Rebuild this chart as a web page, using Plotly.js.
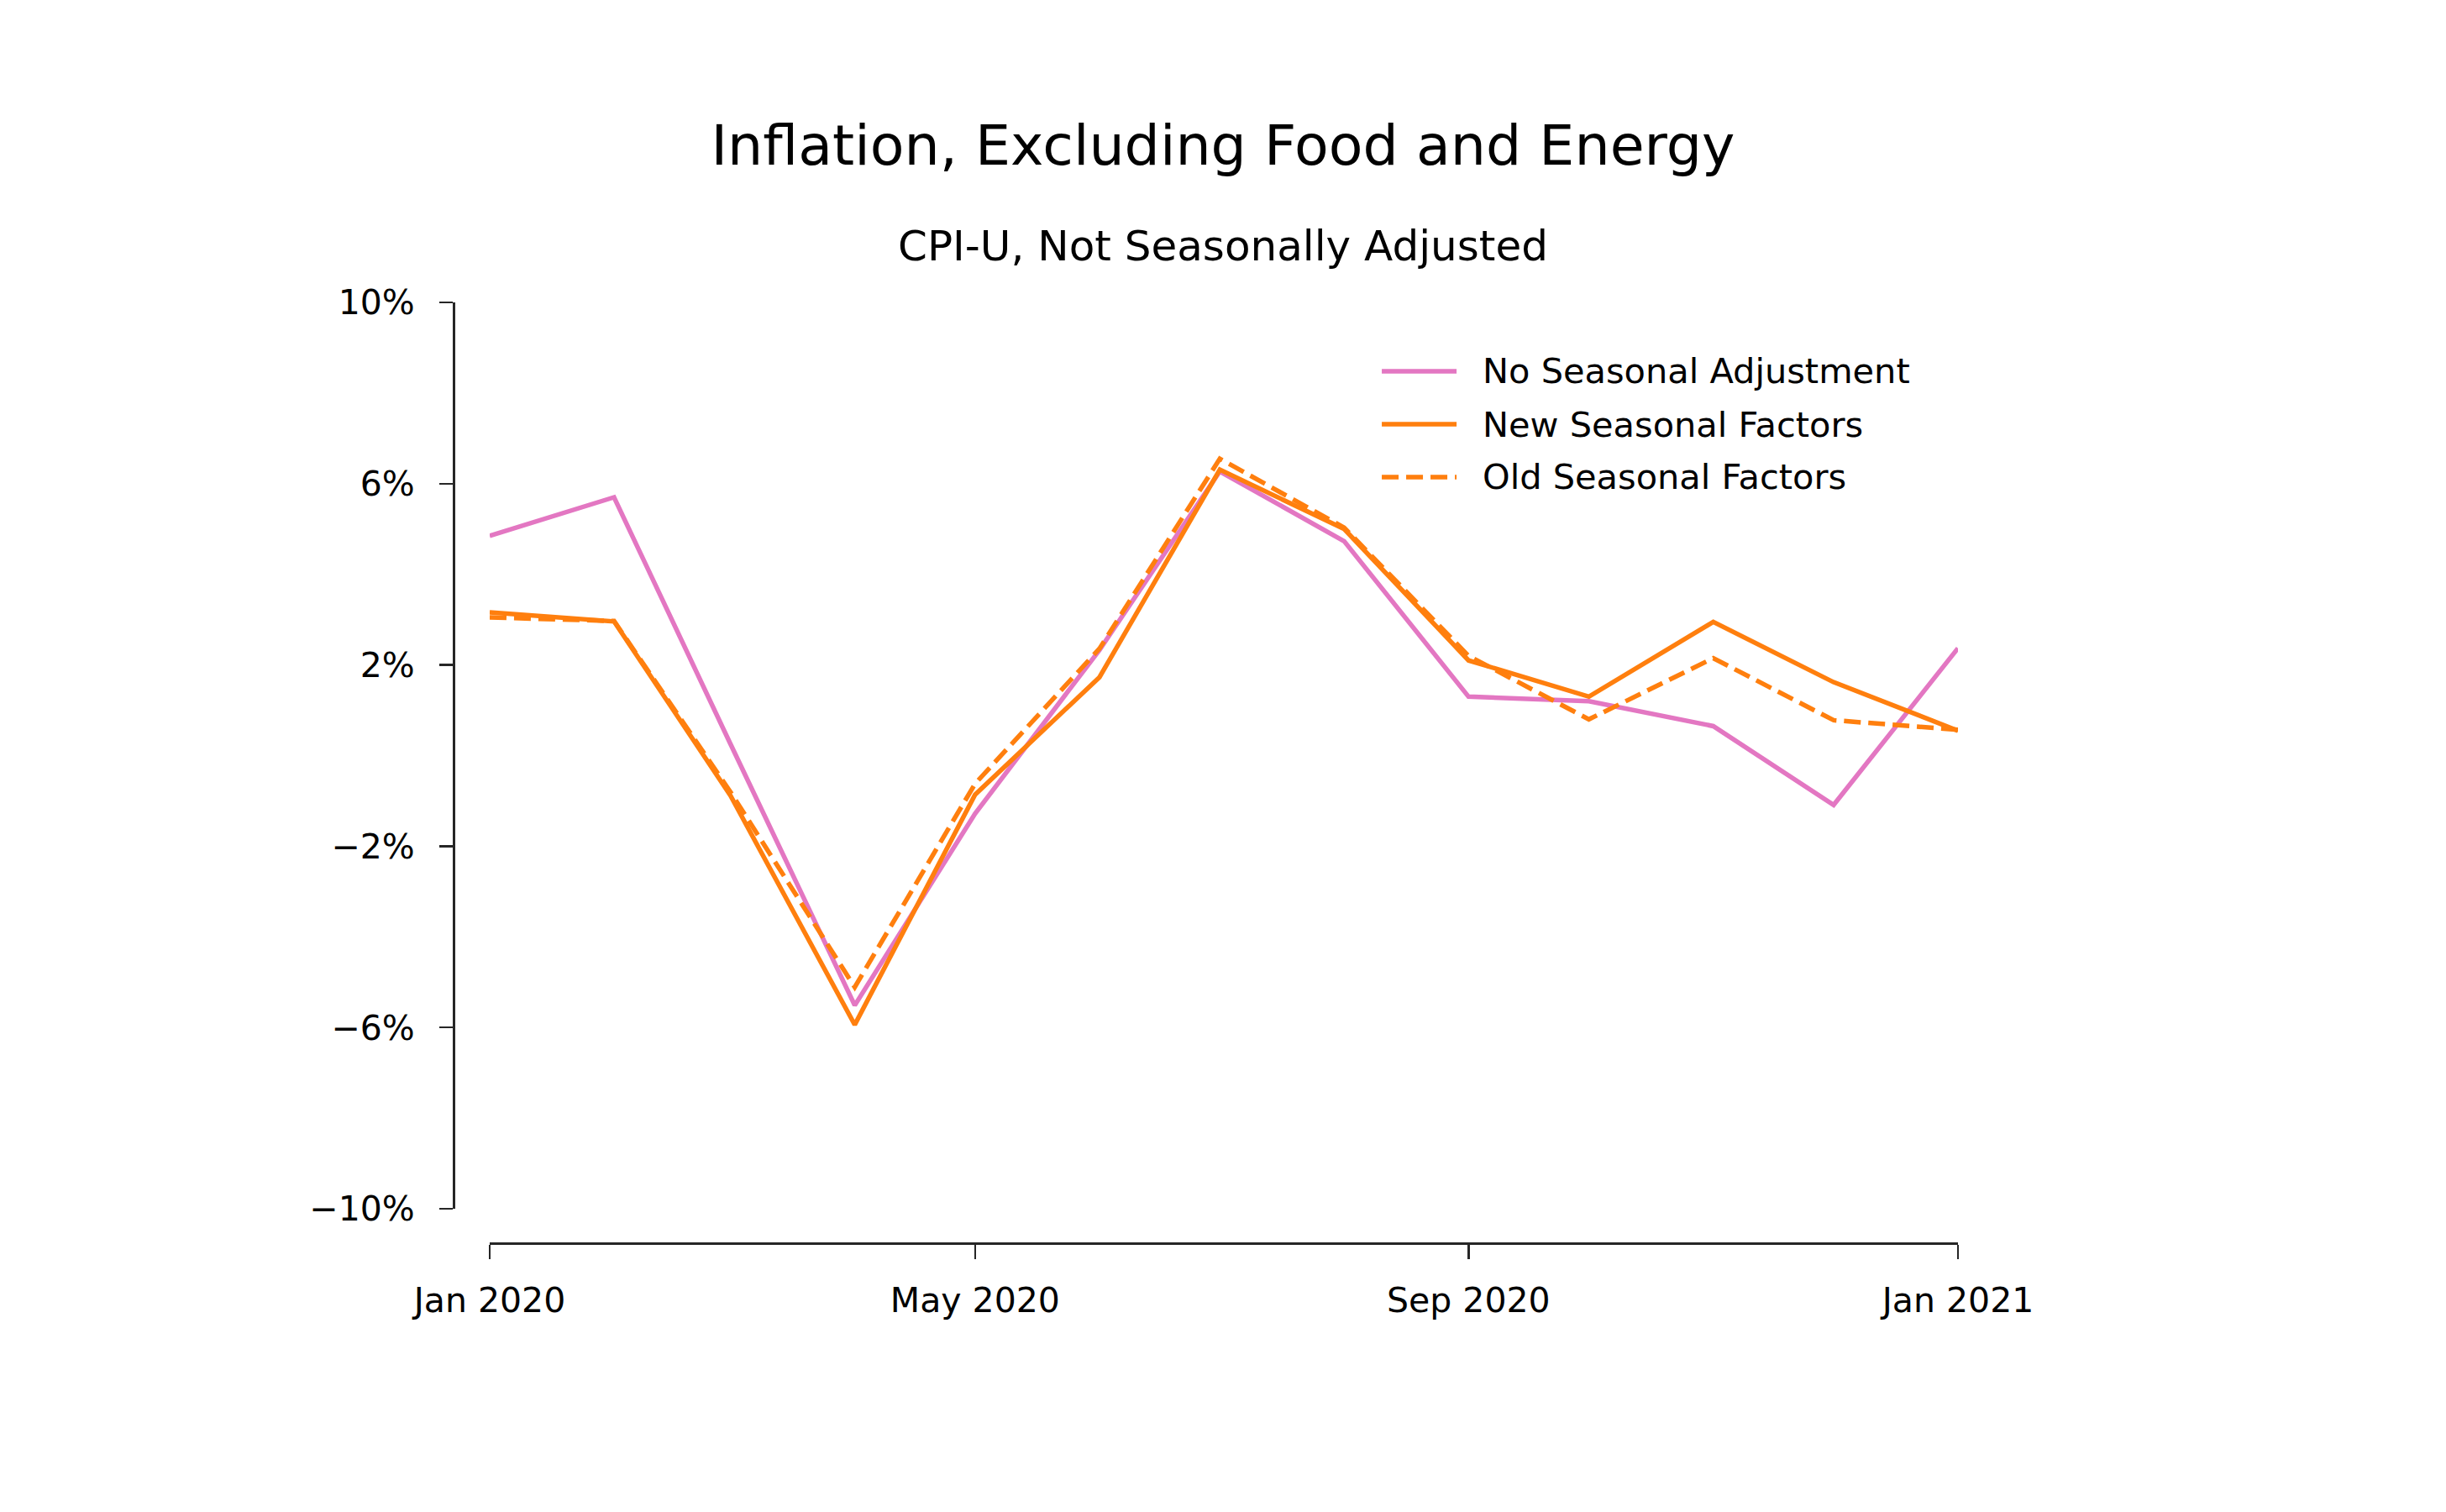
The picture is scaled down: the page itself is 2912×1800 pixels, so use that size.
<!DOCTYPE html>
<html>
<head>
<meta charset="utf-8">
<script src="https://cdn.plot.ly/plotly-3.0.1.min.js"></script>
<style>html,body{margin:0;padding:0;background:#fff;}#chart{width:2912px;height:1800px;}</style>
</head>
<body>
<div id="chart"></div>
<script>
// ---- data ----
const months = ['2020-01-01','2020-02-01','2020-03-01','2020-04-01','2020-05-01','2020-06-01','2020-07-01',
                '2020-08-01','2020-09-01','2020-10-01','2020-11-01','2020-12-01','2021-01-01'];
const noSeasonalAdjustment = [4.85, 5.70, 0.26, -5.51, -1.28, 2.33, 6.27, 4.73, 1.30, 1.20, 0.65, -1.09, 2.37];
const newSeasonalFactors   = [3.16, 2.96, -0.88, -5.94, -0.86, 1.73, 6.31, 5.00, 2.10, 1.30, 2.95, 1.62, 0.55];
const oldSeasonalFactors   = [3.05, 2.97, -0.80, -5.11, -0.62, 2.36, 6.55, 5.03, 2.20, 0.80, 2.15, 0.78, 0.57];
const seriesNames = ['No Seasonal Adjustment', 'New Seasonal Factors', 'Old Seasonal Factors'];
const yTickVals = [-10, -6, -2, 2, 6, 10];
const yTickText = ['\u221210%', '\u22126%', '\u22122%', '2%', '6%', '10%'];
const xTickVals = ['2020-01-01', '2020-05-01', '2020-09-01', '2021-01-01'];
const xTickText = ['Jan 2020', 'May 2020', 'Sep 2020', 'Jan 2021'];
const titleText = 'Inflation, Excluding Food and Energy';
const subtitleText = 'CPI-U, Not Seasonally Adjusted';

// ---- styles ----
const PINK = '#e377c2', ORANGE = '#ff7f0e', AX = '#262626';
const FONT = 'DejaVu Sans, sans-serif';
const LW = 5.5;
const styles = [
  {color: PINK, width: LW, dash: 'solid'},
  {color: ORANGE, width: LW, dash: 'solid'},
  {color: ORANGE, width: LW, dash: '20px,9px'}
];
const seriesValues = [noSeasonalAdjustment, newSeasonalFactors, oldSeasonalFactors];

const traces = seriesValues.map((vals, i) => ({
  type: 'scatter', mode: 'lines', x: months, y: vals, name: seriesNames[i],
  line: styles[i], showlegend: false, hoverinfo: 'skip'
}));

// manual legend (paper coords)
const legX0 = 0.617, legX1 = 0.6667, legTextX = 0.6834;
const legY = [0.9268, 0.8705, 0.8143];
const shapes = [], annotations = [];
seriesNames.forEach((n, i) => {
  shapes.push({type: 'line', xref: 'paper', yref: 'paper', x0: legX0, x1: legX1, y0: legY[i], y1: legY[i],
               line: {color: styles[i].color, width: LW, dash: styles[i].dash}});
  annotations.push({xref: 'paper', yref: 'paper', x: legTextX - 0.0005, y: legY[i], xanchor: 'left', yanchor: 'middle',
                    text: n, showarrow: false, font: {family: FONT, size: 41.5, color: '#000'}});
});
annotations.push({xref: 'paper', yref: 'paper', x: 0.5114, y: 1.0598, xanchor: 'center', yanchor: 'middle',
                  text: subtitleText, showarrow: false, font: {family: FONT, size: 50, color: '#000'}});

const layout = {
  width: 2912, height: 1800,
  paper_bgcolor: '#fff', plot_bgcolor: '#fff',
  margin: {l: 540, r: 581, t: 360, b: 320, pad: 0},
  font: {family: FONT, color: '#000'},
  title: {text: titleText, font: {family: FONT, size: 66.6, color: '#000'},
          xref: 'container', yref: 'container', x: 0.5, y: 0.9039, xanchor: 'center', yanchor: 'middle'},
  xaxis: {
    type: 'date', range: ['2020-01-01', '2021-01-01'], domain: [0.024, 1],
    anchor: 'free', position: 0,
    tickmode: 'array', tickvals: xTickVals, ticktext: xTickText,
    ticks: 'outside', ticklen: 17, tickwidth: 2.5, tickcolor: AX,
    showline: true, linecolor: AX, linewidth: 2.5,
    showgrid: false, zeroline: false, ticklabelstandoff: 14,
    tickfont: {family: FONT, size: 41, color: '#000'}
  },
  yaxis: {
    range: [-10, 10], domain: [0.0366, 1],
    anchor: 'free', position: 0,
    tickmode: 'array', tickvals: yTickVals, ticktext: yTickText,
    ticks: 'outside', ticklen: 16, tickwidth: 2.5, tickcolor: AX,
    showline: true, linecolor: AX, linewidth: 2.5,
    showgrid: false, zeroline: false, ticklabelstandoff: 21,
    tickfont: {family: FONT, size: 41, color: '#000'}
  },
  shapes: shapes,
  annotations: annotations
};

Plotly.newPlot('chart', traces, layout, {staticPlot: true, displayModeBar: false});
</script>
</body>
</html>
